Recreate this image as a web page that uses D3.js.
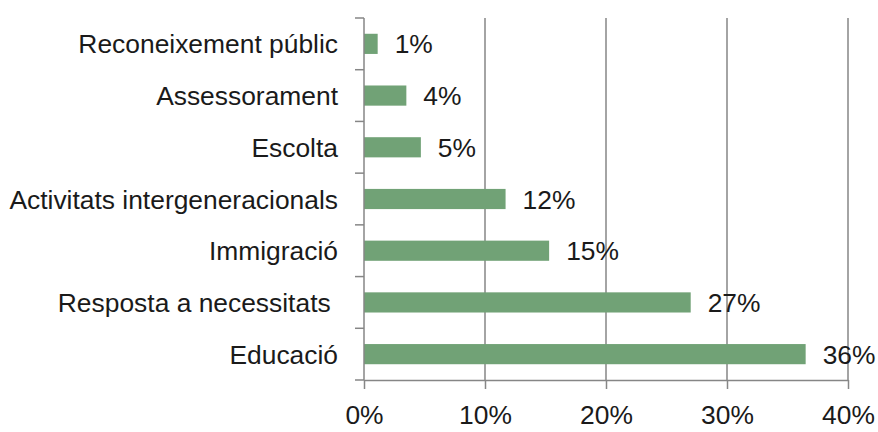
<!DOCTYPE html>
<html>
<head>
<meta charset="utf-8">
<script src="https://cdn.jsdelivr.net/npm/d3@7"></script>
<style>
  body { margin: 0; background: #fff; }
  text { font-family: "Liberation Sans", Arial, sans-serif; fill: #1a1a1a; }
</style>
</head>
<body>
<main></main>
<script>
var categories = ['Reconeixement públic', 'Assessorament', 'Escolta', 'Activitats intergeneracionals', 'Immigració', 'Resposta a necessitats ', 'Educació'];
var values = [0.0113, 0.035, 0.047, 0.117, 0.153, 0.270, 0.365];
var valueLabels = ['1%', '4%', '5%', '12%', '15%', '27%', '36%'];
var xTicks = [0, 0.1, 0.2, 0.3, 0.4];

!function(){
    var w = 878, h = 432;
    var m = {top: 18, right: 30, bottom: 52, left: 364};
    var fs = '26.4px';

    var svg = d3.select('main').append('svg')
        .attr('width', w)
        .attr('height', h);

    var x = d3.scaleLinear().domain([0, 0.4]).range([m.left, w - m.right]);
    var y = d3.scaleBand().domain(categories)
        .range([m.top, h - m.bottom])
        .paddingInner(0.61)
        .paddingOuter(0.305);

    // vertical gridlines
    svg.append('g').selectAll('line')
        .data(xTicks.slice(1))
        .join('line')
        .attr('x1', d => x(d)).attr('x2', d => x(d))
        .attr('y1', m.top).attr('y2', h - m.bottom)
        .attr('stroke', '#868686')
        .attr('stroke-width', 1.5);

    // bars
    svg.append('g').selectAll('rect')
        .data(categories)
        .join('rect')
        .attr('x', x(0))
        .attr('y', d => y(d))
        .attr('width', (d, i) => x(values[i]) - x(0))
        .attr('height', y.bandwidth())
        .attr('fill', '#71a276');

    // value labels
    svg.append('g').selectAll('text')
        .data(categories)
        .join('text')
        .attr('x', (d, i) => x(values[i]) + 17)
        .attr('y', d => y(d) + y.bandwidth() / 2)
        .attr('dy', '0.36em')
        .style('font-size', fs)
        .text((d, i) => valueLabels[i]);

    // x axis
    var xAxis = d3.axisBottom(x)
        .tickValues(xTicks)
        .tickFormat(d3.format('.0%'))
        .tickSize(9)
        .tickSizeOuter(0)
        .tickPadding(16);

    var gx = svg.append('g')
        .attr('transform', 'translate(0,' + (h - m.bottom) + ')')
        .call(xAxis);
    gx.select('.domain').attr('stroke', '#868686').attr('stroke-width', 1.5);
    gx.selectAll('.tick line').attr('stroke', '#868686').attr('stroke-width', 1.5);
    gx.selectAll('.tick text').style('font-size', fs).attr('fill', '#1a1a1a');

    // y axis line + ticks at category boundaries
    var gy = svg.append('g');
    gy.append('line')
        .attr('x1', x(0)).attr('x2', x(0))
        .attr('y1', m.top).attr('y2', h - m.bottom)
        .attr('stroke', '#868686').attr('stroke-width', 1.5);

    var bounds = categories.map(c => y(c) - y.step() * y.paddingOuter()).concat([h - m.bottom]);
    gy.selectAll('line.tk')
        .data(bounds)
        .join('line')
        .attr('class', 'tk')
        .attr('x1', x(0) - 9).attr('x2', x(0))
        .attr('y1', d => d).attr('y2', d => d)
        .attr('stroke', '#868686').attr('stroke-width', 1.5);

    gy.selectAll('text')
        .data(categories)
        .join('text')
        .attr('x', 338)
        .attr('y', d => y(d) + y.bandwidth() / 2)
        .attr('dy', '0.36em')
        .attr('text-anchor', 'end')
        .style('font-size', fs)
        .style('white-space', 'pre')
        .text(d => d);
}();
</script>
</body>
</html>
